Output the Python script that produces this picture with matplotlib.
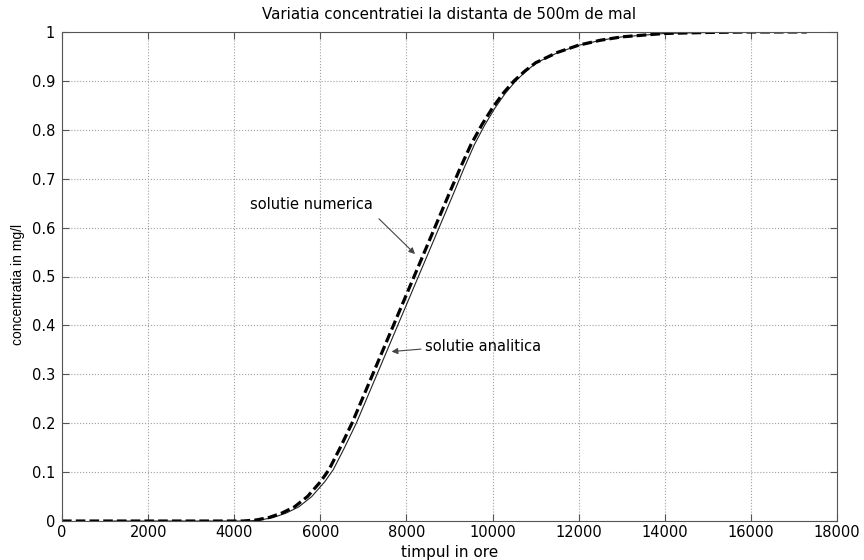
import numpy as np
import matplotlib.pyplot as plt
from matplotlib.ticker import FuncFormatter

plt.rcParams['font.family'] = ['DejaVu Sans']

# numerical solution (dashed)
t_num = [0, 1000, 2000, 3000, 4000, 4200, 4500, 4800, 5100, 5400,
         5700, 6000, 6200, 6450, 6735, 7000, 7250, 7500, 7750, 8000,
         8250, 8500, 8750, 9000, 9250, 9500, 9750, 10000, 10250, 10500,
         10750, 11000, 11500, 12000, 12500, 13000, 14000, 15000, 16000, 17300]
c_num = [0, 0, 0, 0, 0, 0, 0.002, 0.007, 0.016, 0.029,
         0.05, 0.08, 0.105, 0.148, 0.2, 0.255, 0.307, 0.359, 0.411, 0.463,
         0.515, 0.567, 0.619, 0.671, 0.722, 0.77, 0.81, 0.845, 0.875, 0.9,
         0.92, 0.937, 0.958, 0.973, 0.983, 0.99, 0.997, 0.999, 1.0, 1.0]

# analytical solution (thin solid)
t_an = [1200, 2000, 3000, 4000, 4300, 4600, 4900, 5200, 5500,
        5800, 6100, 6300, 6550, 6835, 7100, 7350, 7600, 7850, 8100,
        8350, 8600, 8850, 9100, 9340, 9580, 9820, 10060, 10300, 10540,
        10780, 11020, 11520, 12015, 12510, 13005, 14000, 15000, 16000, 17300]
c_an = [0, 0, 0, 0, 0, 0.002, 0.007, 0.016, 0.029,
        0.05, 0.08, 0.105, 0.148, 0.2, 0.255, 0.307, 0.359, 0.411, 0.463,
        0.515, 0.567, 0.619, 0.671, 0.722, 0.77, 0.81, 0.845, 0.875, 0.9,
        0.92, 0.937, 0.958, 0.973, 0.983, 0.99, 0.997, 0.999, 1.0, 1.0]

x_ticks = np.arange(0, 18001, 2000)
y_ticks = np.round(np.arange(0, 1.01, 0.1), 1)

fig = plt.figure(figsize=(8.64, 5.6), dpi=100)
ax = fig.add_axes([0.0718, 0.0696, 0.8969, 0.8733])

ax.plot(t_an, c_an, color='#222222', lw=0.8)
ax.plot(t_num, c_num, color='black', lw=2.3, linestyle=(0, (3, 1.3)))

ax.set_xlim(0, 18000)
ax.set_ylim(0, 1)
ax.set_xticks(x_ticks)
ax.set_yticks(y_ticks)
ax.yaxis.set_major_formatter(FuncFormatter(lambda v, p: '%g' % v))
ax.grid(True, linestyle=':', color='#a0a0a0', lw=0.8)
ax.tick_params(direction='in', top=True, right=True, length=5, labelsize=10.5,
               color='#555555', pad=3)
ax.tick_params(axis='y', pad=5)
for s in ax.spines.values():
    s.set_color('#555555')

ax.set_title('Variatia concentratiei la distanta de 500m de mal', fontsize=10.8, pad=9)
ax.set_xlabel('timpul in ore', fontsize=11)
ax.xaxis.label.set_va('center')
ax.xaxis.set_label_coords(0.5, -0.064)
ax.set_ylabel('concentratia in mg/l', fontsize=10, family='Liberation Sans')
ax.yaxis.label.set(va='center', ha='center', rotation_mode='default')
ax.yaxis.set_label_coords(-0.057, 0.483)

ax.text(4366, 0.648, 'solutie numerica', fontsize=10.5, va='center', ha='left')
ax.annotate('', xy=(8245, 0.542), xytext=(7315, 0.622),
            arrowprops=dict(arrowstyle='-|>', color='#444444', lw=0.8,
                            mutation_scale=9))
ax.text(8440, 0.356, 'solutie analitica', fontsize=10.5, va='center', ha='left')
ax.annotate('', xy=(7590, 0.346), xytext=(8400, 0.352),
            arrowprops=dict(arrowstyle='-|>', color='#444444', lw=0.8,
                            mutation_scale=9))

fig.savefig('out.png', dpi=100)
